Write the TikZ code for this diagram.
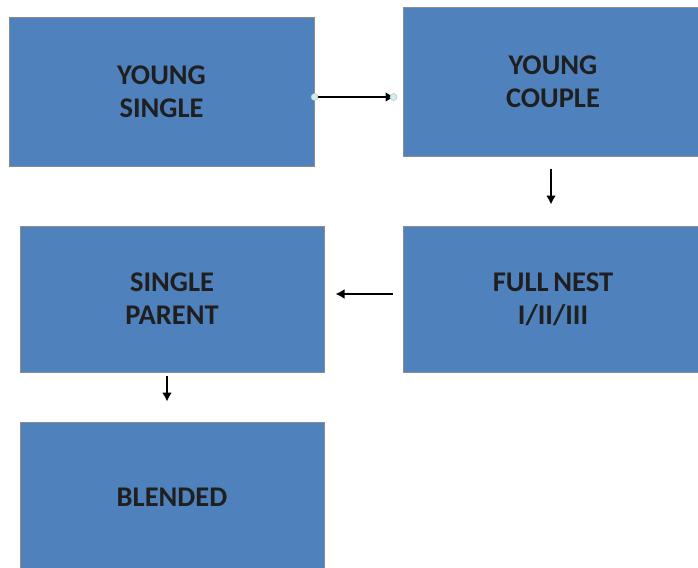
\documentclass[tikz,border=0pt]{standalone}
\usepackage{fontspec}
\setmainfont{Carlito}
\usetikzlibrary{arrows.meta}
\definecolor{boxblue}{HTML}{4F81BD}
\definecolor{boxedge}{HTML}{8C8C8C}
\definecolor{dotc}{HTML}{CDEFF2}
\tikzset{
  stagebox/.style={draw=boxedge, line width=1pt, fill=boxblue, rectangle, inner sep=0pt,
    align=center, text=black!88, font=\bfseries\fontsize{28.5}{33}\selectfont},
  flow/.style={line width=2.4pt, -{Latex[length=9pt,width=10pt]}},
}
\begin{document}
\begin{tikzpicture}[x=1pt,y=-1pt]
\useasboundingbox (0,0) rectangle (698,567);
\begin{scope}
\clip (0,0) rectangle (698,567);
\node[stagebox, minimum width=305pt, minimum height=148pt] (ys) at (161.5,92) {YOUNG\\SINGLE};
\node[stagebox, minimum width=300pt, minimum height=148pt] (yc) at (553,82) {YOUNG\\COUPLE};
\node[stagebox, minimum width=304pt, minimum height=146pt] (sp) at (172,299) {SINGLE\\PARENT};
\node[stagebox, minimum width=300pt, minimum height=146pt] (fn) at (553,299) {FULL\,NEST\\I/II/III};
\node[stagebox, minimum width=304pt, minimum height=150pt] (bl) at (172,497) {BLENDED};
\end{scope}
\draw[flow, shorten >=8pt] (ys.east|-0,97) coordinate (ysr) -- (yc.west|-0,97) coordinate (ycl);
\fill[dotc, draw=boxedge!60, line width=0.5pt] (ysr) circle (3.5pt);
\fill[dotc, draw=boxedge!60, line width=0.5pt] ([xshift=-9pt]ycl) circle (3.5pt);
\draw[flow, shorten <=12pt, shorten >=21pt] ([xshift=-2pt]yc.south) -- ([xshift=-2pt]fn.north);
\draw[flow, shorten <=10pt, shorten >=11pt] ([yshift=5pt]fn.west) -- ([yshift=5pt]sp.east);
\draw[flow, shorten <=3pt, shorten >=20pt] ([xshift=-5pt]sp.south) -- ([xshift=-5pt]bl.north);
\end{tikzpicture}
\end{document}
